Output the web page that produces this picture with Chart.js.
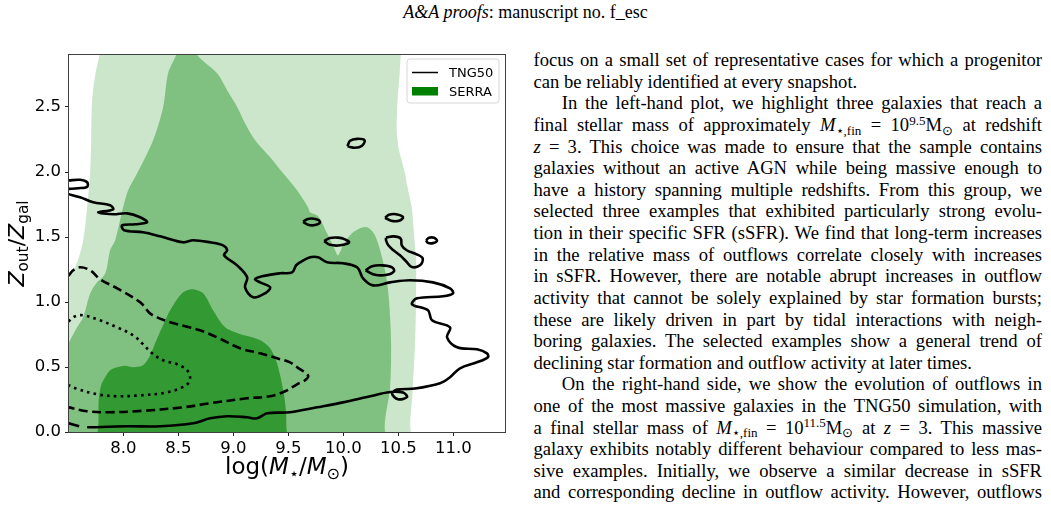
<!DOCTYPE html>
<html>
<head>
<meta charset="utf-8">
<script src="https://cdn.jsdelivr.net/npm/chart.js@4.4.1/dist/chart.umd.min.js"></script>
<style>
  body { margin: 0; width: 1051px; height: 508px; overflow: hidden; background: #fff; position: relative;
         font-family: "Liberation Serif", "Times New Roman", serif; color: #000; }
  #chartBox { position: absolute; left: 0; top: 0; width: 525px; height: 490px; }
  .hdr { position: absolute; left: 0; top: 1px; width: 1051px; text-align: center; font-size: 18px; line-height: 22px; }
  .col { position: absolute; left: 533.5px; top: 49.2px; width: 508.5px; font-size: 18.6px; line-height: 21.62px; }
  .col div { height: 21.62px; }
  .j { text-align: justify; text-align-last: justify; }
  .l { text-align: left; }
  .ind { text-indent: 28.3px; }
  sub, sup { font-size: 0.7em; line-height: 0; vertical-align: baseline; position: relative; }
  sub { top: 0.3em; }
  sup { top: -0.5em; }
</style>
</head>
<body>
<div class="hdr"><i>A&amp;A proofs</i>: manuscript no. f_esc</div>

<div id="chartBox"><canvas id="kdeChart" width="525" height="490"></canvas></div>

<div class="col">
  <div class="j">focus on a small set of representative cases for which a progenitor</div>
  <div class="l">can be reliably identified at every snapshot.</div>
  <div class="j ind">In the left-hand plot, we highlight three galaxies that reach a</div>
  <div class="j">final stellar mass of approximately <i>M</i><sub>⋆,fin</sub> = 10<sup>9.5</sup>M<sub>⊙</sub> at redshift</div>
  <div class="j"><i>z</i> = 3. This choice was made to ensure that the sample contains</div>
  <div class="j">galaxies without an active AGN while being massive enough to</div>
  <div class="j">have a history spanning multiple redshifts. From this group, we</div>
  <div class="j">selected three examples that exhibited particularly strong evolu-</div>
  <div class="j">tion in their specific SFR (sSFR). We find that long-term increases</div>
  <div class="j">in the relative mass of outflows correlate closely with increases</div>
  <div class="j">in sSFR. However, there are notable abrupt increases in outflow</div>
  <div class="j">activity that cannot be solely explained by star formation bursts;</div>
  <div class="j">these are likely driven in part by tidal interactions with neigh-</div>
  <div class="j">boring galaxies. The selected examples show a general trend of</div>
  <div class="l">declining star formation and outflow activity at later times.</div>
  <div class="j ind">On the right-hand side, we show the evolution of outflows in</div>
  <div class="j">one of the most massive galaxies in the TNG50 simulation, with</div>
  <div class="j">a final stellar mass of <i>M</i><sub>⋆,fin</sub> = 10<sup>11.5</sup>M<sub>⊙</sub> at <i>z</i> = 3. This massive</div>
  <div class="j">galaxy exhibits notably different behaviour compared to less mas-</div>
  <div class="j">sive examples. Initially, we observe a similar decrease in sSFR</div>
  <div class="j">and corresponding decline in outflow activity. However, outflows</div>
</div>

<script>
const xTicks = [8.0, 8.5, 9.0, 9.5, 10.0, 10.5, 11.0];
const yTicks = [0.0, 0.5, 1.0, 1.5, 2.0, 2.5];
const xRange = [7.505, 11.47];
const yRange = [0, 2.9];
const legendLabels = ['TNG50', 'SERRA'];

// SERRA density levels, outer to inner
const serraOuter = [[7.40,-0.10],[7.40,1.00],[7.443,1.074],[7.506,1.182],[7.579,1.305],[7.634,1.475],[7.670,1.728],
  [7.697,1.990],[7.706,2.244],[7.715,2.552],[7.743,2.744],[7.782,2.90],[7.80,2.98],[10.53,2.98],[10.522,2.90],
  [10.511,2.744],[10.493,2.552],[10.485,2.321],[10.493,2.244],[10.506,2.167],[10.561,1.990],[10.576,1.913],
  [10.622,1.728],[10.631,1.652],[10.647,1.475],[10.661,1.321],[10.661,1.013],[10.652,0.682],[10.629,0.298],
  [10.613,0.0],[10.70,-0.10]];
const serraMiddle = [[7.40,-0.10],[7.40,0.55],[7.443,0.590],[7.506,0.690],[7.579,0.805],[7.634,0.882],[7.697,1.065],
  [7.752,1.142],[7.834,1.219],[7.879,1.398],[7.925,1.475],[7.997,1.728],[8.043,1.859],[8.125,1.990],[8.270,2.244],
  [8.361,2.498],[8.406,2.759],[8.479,2.90],[8.50,2.98],[8.65,2.98],[8.670,2.90],[8.852,2.759],[8.943,2.628],
  [9.035,2.498],[9.106,2.375],[9.197,2.244],[9.334,2.113],[9.452,1.990],[9.579,1.859],[9.679,1.728],[9.697,1.690],
  [9.770,1.660],[9.852,1.528],[9.925,1.398],[9.952,1.359],[10.006,1.450],[10.079,1.528],[10.152,1.567],
  [10.215,1.575],[10.270,1.536],[10.306,1.475],[10.352,1.343],[10.388,1.205],[10.415,1.013],[10.434,0.682],
  [10.425,0.344],[10.379,0.0],[10.50,-0.10]];
const serraInner = [[7.70,-0.10],[7.765,0.0],[7.775,0.244],[7.797,0.359],[7.834,0.421],[7.879,0.475],[7.943,0.498],
  [8.015,0.509],[8.088,0.498],[8.179,0.513],[8.243,0.590],[8.288,0.682],[8.352,0.805],[8.425,0.936],[8.533,1.067],
  [8.624,1.098],[8.725,1.067],[8.815,0.936],[8.925,0.805],[9.063,0.752],[9.170,0.728],[9.261,0.698],[9.334,0.644],
  [9.388,0.552],[9.425,0.436],[9.461,0.282],[9.479,0.151],[9.488,0.0],[9.55,-0.10]];

// TNG50 contours
const tngSolid = [[7.50,1.83],[7.606,1.805],[7.725,1.767],[7.879,1.744],[7.906,1.713],[7.770,1.690],[7.906,1.675],
  [8.034,1.682],[8.152,1.652],[8.215,1.613],[8.106,1.598],[7.988,1.590],[8.006,1.552],[8.179,1.536],[8.334,1.505],
  [8.543,1.459],[8.634,1.475],[8.788,1.459],[8.906,1.436],[8.943,1.398],[8.915,1.359],[9.034,1.282],[9.125,1.190],
  [9.106,1.113],[9.179,1.036],[9.288,1.067],[9.334,1.113],[9.243,1.151],[9.197,1.175],[9.261,1.198],[9.425,1.221],
  [9.534,1.228],[9.570,1.282],[9.606,1.305],[9.697,1.344],[9.770,1.344],[9.852,1.305],[9.997,1.298],[10.125,1.267],
  [10.179,1.182],[10.270,1.128],[10.425,1.151],[10.606,1.167],[10.815,1.151],[10.970,1.105],[10.997,1.067],
  [10.906,1.044],[10.670,1.028],[10.625,0.982],[10.770,0.936],[10.806,0.859],[10.970,0.805],[10.943,0.728],
  [11.034,0.652],[11.215,0.636],[11.306,0.605],[11.315,0.575],[11.215,0.536],[11.061,0.490],[10.970,0.421],
  [10.879,0.375],[10.652,0.334],[10.488,0.326],[10.443,0.295],[10.497,0.252],[10.579,0.269],[10.543,0.303],
  [10.425,0.308],[10.215,0.269],[9.997,0.228],[9.761,0.190],[9.515,0.152],[9.306,0.144],[9.215,0.105],
  [9.125,0.113],[8.943,0.121],[8.788,0.105],[8.634,0.067],[8.334,0.044],[8.034,0.044],[7.670,0.036]];
const tngSolidEdge = [[7.50,1.935],[7.606,1.940],[7.670,1.921],[7.670,1.886],[7.588,1.875],[7.50,1.87]];
const tngSolidStub = [[7.50,0.068],[7.597,0.044]];
const tngIslands = [
  [[10.038,2.198],[10.061,2.240],[10.125,2.255],[10.193,2.244],[10.170,2.202],[10.106,2.186],[10.038,2.198]],
  [[9.634,1.617],[9.670,1.636],[9.715,1.642],[9.770,1.632],[9.788,1.613],[9.743,1.592],[9.679,1.594],[9.634,1.617]],
  [[10.379,1.648],[10.415,1.671],[10.479,1.675],[10.543,1.652],[10.506,1.625],[10.434,1.625],[10.379,1.648]],
  [[9.825,1.469],[9.879,1.492],[9.952,1.495],[10.015,1.482],[10.052,1.459],[9.970,1.436],[9.879,1.440],[9.825,1.469]],
  [[10.752,1.475],[10.779,1.494],[10.825,1.494],[10.852,1.471],[10.815,1.453],[10.770,1.455],[10.752,1.475]],
  [[10.202,1.244],[10.261,1.275],[10.352,1.282],[10.443,1.267],[10.461,1.236],[10.397,1.209],[10.288,1.209],[10.202,1.244]],
  [[10.388,1.495],[10.455,1.505],[10.522,1.488],[10.531,1.436],[10.576,1.398],[10.667,1.367],[10.722,1.334],
   [10.697,1.282],[10.622,1.269],[10.576,1.308],[10.515,1.359],[10.455,1.398],[10.409,1.436],[10.388,1.475],[10.388,1.495]]
];
const tngDashed = [[7.50,1.20],[7.543,1.244],[7.606,1.267],[7.697,1.244],[7.788,1.175],[7.943,1.105],[8.152,0.998],
  [8.243,0.911],[8.306,0.882],[8.425,0.844],[8.561,0.813],[8.697,0.782],[8.852,0.728],[9.061,0.644],[9.243,0.605],
  [9.397,0.567],[9.515,0.536],[9.579,0.498],[9.679,0.436],[9.652,0.398],[9.579,0.367],[9.470,0.313],[9.334,0.275],
  [9.125,0.259],[8.788,0.221],[8.543,0.190],[8.179,0.163],[7.879,0.152],[7.670,0.159],[7.50,0.19]];
const tngDotted = [[7.50,0.85],[7.561,0.890],[7.634,0.898],[7.788,0.859],[7.943,0.805],[8.088,0.744],[8.170,0.682],
  [8.261,0.605],[8.361,0.552],[8.488,0.521],[8.579,0.475],[8.606,0.413],[8.570,0.359],[8.397,0.305],[8.152,0.282],
  [7.943,0.275],[7.761,0.290],[7.579,0.332],[7.50,0.36]];

const toPoints = arr => arr.map(([x, y]) => ({ x, y }));

function contour(arr, dash) {
  return {
    data: toPoints(arr), showLine: true, fill: false, pointRadius: 0,
    borderColor: '#000', borderWidth: 2.6, borderDash: dash || [], tension: 0.35
  };
}
function level(arr, color) {
  return {
    data: toPoints(arr), showLine: true, fill: 'shape', backgroundColor: color,
    borderColor: 'rgba(0,0,0,0)', borderWidth: 0, pointRadius: 0, tension: 0.3
  };
}

const datasets = [
  contour(tngSolid), contour(tngSolidEdge), contour(tngSolidStub),
  ...tngIslands.map(a => contour(a)),
  contour(tngDashed, [9, 4.5]),
  contour(tngDotted, [2.6, 4.2]),
  level(serraInner, '#339933'),
  level(serraMiddle, '#80c080'),
  level(serraOuter, '#cce6cc')
];

function drawRuns(ctx, runs, size, cx, cy) {
  const items = runs.map(r => {
    const s = r.sub ? size * 0.7 : size;
    const font = (r.it ? 'italic ' : '') + s + 'px "DejaVu Sans"';
    ctx.font = font;
    return { t: r.t, font, sub: r.sub, w: ctx.measureText(r.t).width };
  });
  let x = cx - items.reduce((a, r) => a + r.w, 0) / 2;
  items.forEach(r => {
    ctx.font = r.font;
    ctx.fillText(r.t, x, cy + (r.sub ? size * 0.22 : 0));
    x += r.w;
  });
}

const axisTitles = {
  id: 'axisTitles',
  afterDraw(chart) {
    const { ctx, chartArea: a } = chart;
    ctx.save();
    ctx.fillStyle = '#000';
    ctx.textAlign = 'left';
    ctx.textBaseline = 'alphabetic';
    drawRuns(ctx, [{ t: 'log(' }, { t: 'M', it: true }, { t: '⋆', sub: true }, { t: '/' },
      { t: 'M', it: true }, { t: '⊙', sub: true }, { t: ')' }], 23, (a.left + a.right) / 2, 474);
    ctx.translate(23.5, (a.top + a.bottom) / 2);
    ctx.rotate(-Math.PI / 2);
    drawRuns(ctx, [{ t: 'Z', it: true }, { t: 'out', sub: true }, { t: '/' },
      { t: 'Z', it: true }, { t: 'gal', sub: true }], 22, 0, 0);
    ctx.restore();
  }
};

const frameAndLegend = {
  id: 'frameAndLegend',
  afterDraw(chart) {
    const { ctx, chartArea: a } = chart;
    ctx.save();
    ctx.strokeStyle = '#404040';
    ctx.lineWidth = 1;
    ctx.strokeRect(a.left - 0.5, a.top - 0.5, a.right - a.left + 1, a.bottom - a.top + 1);

    const w = 92, h = 44, x = a.right - 6 - w, y = a.top + 4;
    ctx.beginPath();
    ctx.roundRect(x, y, w, h, 3);
    ctx.fillStyle = 'rgba(255,255,255,0.8)';
    ctx.fill();
    ctx.strokeStyle = '#d6d6d6';
    ctx.stroke();

    ctx.beginPath();
    ctx.moveTo(x + 5, y + 13.5);
    ctx.lineTo(x + 31, y + 13.5);
    ctx.strokeStyle = '#000';
    ctx.lineWidth = 1.5;
    ctx.stroke();
    ctx.fillStyle = '#008000';
    ctx.fillRect(x + 5, y + 28, 26, 8.5);

    ctx.fillStyle = '#000';
    ctx.font = '13px "DejaVu Sans"';
    ctx.textBaseline = 'alphabetic';
    ctx.fillText(legendLabels[0], x + 42, y + 18);
    ctx.fillText(legendLabels[1], x + 42, y + 37);
    ctx.restore();
  }
};

const tickFont = { family: 'DejaVu Sans', size: 16.5 };

new Chart(document.getElementById('kdeChart').getContext('2d'), {
  type: 'scatter',
  data: { datasets },
  options: {
    responsive: false,
    animation: false,
    devicePixelRatio: 1,
    events: [],
    layout: { padding: { left: 0, top: 55, right: 20, bottom: 0 } },
    plugins: { legend: { display: false }, tooltip: { enabled: false } },
    scales: {
      x: {
        type: 'linear', min: xRange[0], max: xRange[1],
        afterBuildTicks: s => { s.ticks = xTicks.map(v => ({ value: v })); },
        afterFit: s => { s.height = 58; },
        ticks: { callback: v => v.toFixed(1), font: tickFont, color: '#000', padding: 3, maxRotation: 0, autoSkip: false },
        grid: { drawOnChartArea: false, drawTicks: true, tickLength: 4, color: '#222' },
        border: { display: false }
      },
      y: {
        type: 'linear', min: yRange[0], max: yRange[1],
        afterBuildTicks: s => { s.ticks = yTicks.map(v => ({ value: v })); },
        afterFit: s => { s.width = 69; },
        ticks: { callback: v => v.toFixed(1), font: tickFont, color: '#000', padding: 4, autoSkip: false },
        grid: { drawOnChartArea: false, drawTicks: true, tickLength: 4, color: '#222' },
        border: { display: false }
      }
    }
  },
  plugins: [axisTitles, frameAndLegend]
});
</script>
</body>
</html>
